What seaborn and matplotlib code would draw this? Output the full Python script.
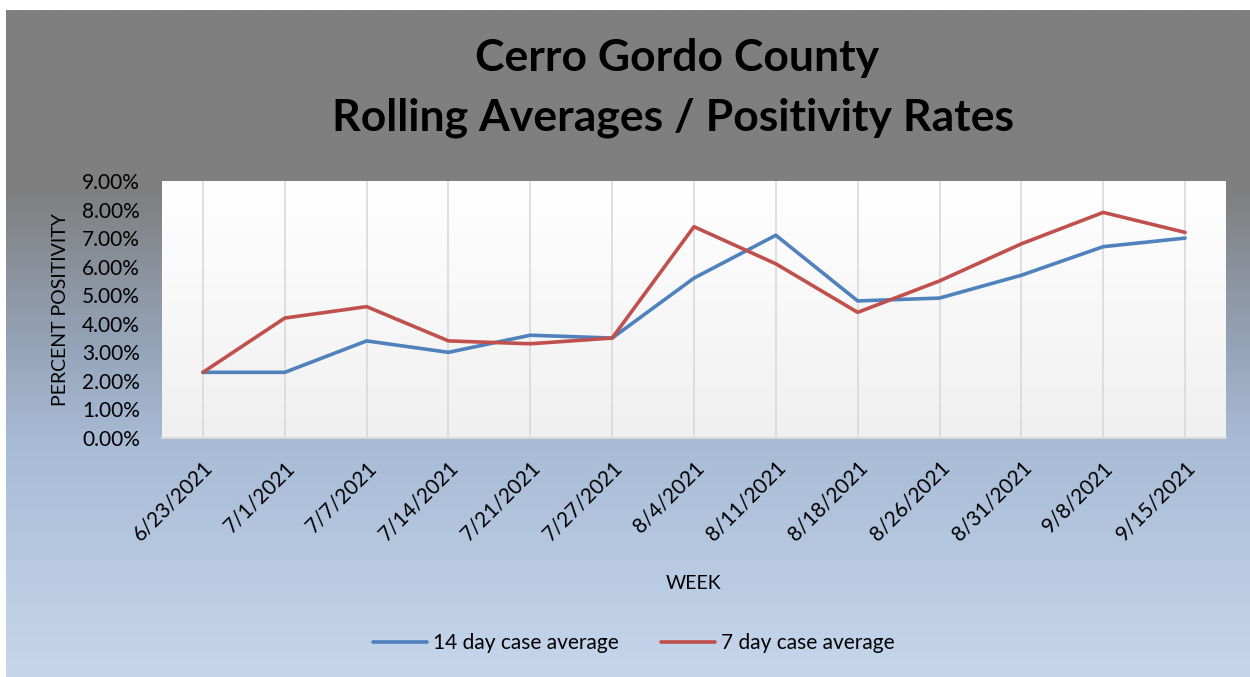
import matplotlib
matplotlib.use("Agg")
import matplotlib.pyplot as plt
from matplotlib.colors import LinearSegmentedColormap
from matplotlib.ticker import FuncFormatter, FixedLocator
import seaborn as sns
import numpy as np
import pandas as pd

# data
weeks = ["6/23/2021", "7/1/2021", "7/7/2021", "7/14/2021", "7/21/2021", "7/27/2021",
         "8/4/2021", "8/11/2021", "8/18/2021", "8/26/2021", "8/31/2021", "9/8/2021", "9/15/2021"]
avg_14 = [2.3, 2.3, 3.4, 3.0, 3.6, 3.5, 5.6, 7.1, 4.8, 4.9, 5.7, 6.7, 7.0]
avg_7 = [2.3, 4.2, 4.6, 3.4, 3.3, 3.5, 7.4, 6.1, 4.4, 5.5, 6.8, 7.9, 7.2]
series_names = ["14 day case average", "7 day case average"]
colors = ["#4f81bd", "#c0504d"]

df = pd.concat([
    pd.DataFrame({"week": weeks, "rate": avg_14, "series": series_names[0]}),
    pd.DataFrame({"week": weeks, "rate": avg_7, "series": series_names[1]}),
])

sns.set_style("white")
plt.rcParams["font.family"] = ["Lato", "DejaVu Sans"]
plt.rcParams["text.color"] = "black"
plt.rcParams["axes.labelcolor"] = "black"
plt.rcParams["xtick.color"] = "black"
plt.rcParams["ytick.color"] = "black"

fig = plt.figure(figsize=(12.5, 6.77), dpi=100)
fig.patch.set_facecolor("white")

# chart area background gradient (gray -> light blue)
bg = fig.add_axes([0.005, 0, 0.995, 667 / 677], zorder=-10)
bg_cmap = LinearSegmentedColormap.from_list(
    "bg", [(0.0, "#7f7f7f"), (0.27, "#7f7f7f"), (0.5, "#95a3b8"),
           (0.65, "#a8bbd5"), (1.0, "#c6d7ec")])
bg.imshow(np.linspace(0, 1, 256).reshape(-1, 1), aspect="auto", cmap=bg_cmap,
          extent=[0, 1, 0, 1], origin="upper")
bg.set_xlim(0, 1)
bg.set_ylim(0, 1)
bg.axis("off")

ax = fig.add_axes([162 / 1250, 1 - 438 / 677, (1226 - 162) / 1250, (438 - 181) / 677])
# plot area gradient (white -> light gray)
pa_cmap = LinearSegmentedColormap.from_list("pa", ["#ffffff", "#f0f0f0"])
ax.imshow(np.linspace(0, 1, 256).reshape(-1, 1), aspect="auto", cmap=pa_cmap,
          extent=[0, 1, 0, 1], origin="upper", transform=ax.transAxes, zorder=0)

sns.lineplot(data=df, x="week", y="rate", hue="series", palette=colors,
             sort=False, linewidth=2.6, ax=ax, zorder=3, legend=False)

ax.set_xlim(-0.5, len(weeks) - 0.5)
ax.set_ylim(0, 9)
ax.set_yticks(range(0, 10))
ax.yaxis.set_major_formatter(FuncFormatter(lambda v, p: f"{v:.2f}%"))
ax.set_xticks(range(len(weeks)))
ax.set_xticklabels(weeks, rotation=45, ha="right", rotation_mode="anchor", fontsize=15)
ax.xaxis.set_minor_locator(FixedLocator(np.arange(-0.5, len(weeks), 1.0)))
ax.tick_params(axis="x", which="major", length=0, pad=14)
ax.tick_params(axis="x", which="minor", length=6, color="#d9d9d9", width=1.5, direction="out")
ax.tick_params(axis="y", length=0, labelsize=15, pad=16)
ax.grid(axis="x", color="#d9d9d9", linewidth=1.2, zorder=1)
ax.set_axisbelow(True)
for s in ["top", "right", "left"]:
    ax.spines[s].set_visible(False)
ax.spines["bottom"].set_color("#d9d9d9")
ax.spines["bottom"].set_linewidth(1.5)

ax.set_xlabel("WEEK", fontsize=14)
ax.set_ylabel("PERCENT POSITIVITY", fontsize=14)
ax.xaxis.set_label_coords(0.5, -(575 - 438) / 257)
ax.yaxis.set_label_coords(-(162 - 69) / 1064, 0.5)

fig.text(0.542, 1 - 58 / 677, "Cerro Gordo County", ha="center", va="center",
         fontsize=32, fontweight="bold")
fig.text(0.538, 1 - 118 / 677, "Rolling Averages / Positivity Rates", ha="center",
         va="center", fontsize=32, fontweight="bold")

handles = [plt.Line2D([], [], color=c, linewidth=2.6) for c in colors]
fig.legend(handles, series_names, loc="center", bbox_to_anchor=(0.507, 1 - 643 / 677),
           ncol=2, frameon=False, fontsize=15, handlelength=2.6, columnspacing=2.0,
           handletextpad=0.3)

fig.savefig("out.png", dpi=100)
